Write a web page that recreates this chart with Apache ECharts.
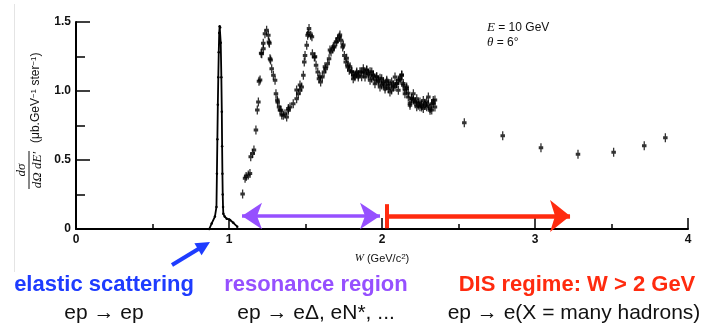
<!DOCTYPE html>
<html>
<head>
<meta charset="utf-8">
<script src="https://cdn.jsdelivr.net/npm/echarts@6/dist/echarts.min.js"></script>
<style>
  html, body { margin: 0; padding: 0; background: #fff; }
  #chart { width: 712px; height: 328px; }
</style>
</head>
<body>
<div id="chart"></div>
<script>
// elastic peak, W (GeV/c2) vs d2sigma/dOmega dE'
var elasticW = [0.871, 0.887, 0.908, 0.918, 0.921, 0.924, 0.927, 0.930, 0.933, 0.936, 0.939, 0.942, 0.946,
  0.950, 0.953, 0.955, 0.957, 0.959, 0.961, 0.963, 0.972, 0.985, 1.007, 1.028, 1.054];
var elasticY = [0.0, 0.04, 0.09, 0.16, 0.40, 0.65, 0.90, 1.10, 1.28, 1.42, 1.47, 1.46, 1.35,
  1.10, 0.85, 0.60, 0.40, 0.25, 0.16, 0.11, 0.09, 0.075, 0.065, 0.045, 0.017];

// resonance region points
var resW = [1.089, 1.105, 1.112, 1.126, 1.137, 1.142, 1.155, 1.163, 1.176, 1.185, 1.192, 1.196, 1.203, 1.210,
  1.214, 1.224, 1.225, 1.235, 1.246, 1.257, 1.261, 1.264, 1.268, 1.272, 1.279, 1.290, 1.301, 1.307, 1.316,
  1.318, 1.327, 1.333, 1.340, 1.345, 1.355, 1.366, 1.377, 1.388, 1.388, 1.399, 1.420, 1.442, 1.442, 1.453,
  1.464, 1.464, 1.475, 1.486, 1.492, 1.497, 1.508, 1.514, 1.518, 1.523, 1.534, 1.542, 1.545, 1.558, 1.562,
  1.569, 1.580, 1.588, 1.595, 1.599, 1.610, 1.621, 1.627, 1.632, 1.645, 1.654, 1.660, 1.667, 1.678, 1.682,
  1.688, 1.699, 1.704, 1.710, 1.721, 1.725, 1.732, 1.743, 1.747, 1.754, 1.763, 1.769, 1.776, 1.780, 1.786,
  1.791, 1.802, 1.802, 1.812, 1.812, 1.823, 1.824, 1.834, 1.835, 1.845, 1.845, 1.856, 1.863, 1.867, 1.878,
  1.878, 1.889, 1.889, 1.900, 1.900, 1.911, 1.911, 1.922, 1.922, 1.933, 1.933, 1.943, 1.943, 1.954, 1.954,
  1.965, 1.965, 1.976, 1.976, 1.987, 1.987, 1.998, 1.998, 2.009, 2.009, 2.020, 2.020, 2.031, 2.031, 2.041,
  2.041, 2.052, 2.052, 2.063, 2.063, 2.074, 2.074, 2.085, 2.085, 2.096, 2.096, 2.107, 2.107, 2.118, 2.118,
  2.129, 2.129, 2.139, 2.139, 2.150, 2.150, 2.161, 2.161, 2.172, 2.172, 2.183, 2.183, 2.194, 2.194, 2.205,
  2.205, 2.216, 2.216, 2.227, 2.227, 2.237, 2.237, 2.248, 2.248, 2.259, 2.259, 2.270, 2.270, 2.281, 2.281,
  2.292, 2.292, 2.303, 2.303, 2.314, 2.314, 2.325, 2.325, 2.335, 2.335, 2.346, 2.346];
var resY = [0.254, 0.367, 0.380, 0.391, 0.403, 0.524, 0.548, 0.572, 0.717, 0.862, 0.920, 1.070, 1.080, 1.273,
  1.270, 1.346, 1.307, 1.415, 1.440, 1.404, 1.355, 1.346, 1.234, 1.225, 1.162, 1.114, 1.078, 0.980, 0.935,
  0.920, 0.884, 0.862, 0.860, 0.826, 0.824, 0.836, 0.812, 0.860, 0.874, 0.884, 0.908, 0.944, 1.007, 0.980,
  1.005, 1.043, 1.029, 1.114, 1.210, 1.258, 1.331, 1.404, 1.418, 1.452, 1.404, 1.394, 1.270, 1.246, 1.249,
  1.186, 1.138, 1.089, 1.104, 1.065, 1.101, 1.138, 1.176, 1.162, 1.198, 1.234, 1.297, 1.283, 1.307, 1.321,
  1.319, 1.355, 1.357, 1.379, 1.391, 1.406, 1.367, 1.319, 1.333, 1.258, 1.210, 1.237, 1.174, 1.188, 1.150,
  1.176, 1.138, 1.140, 1.089, 1.116, 1.104, 1.114, 1.128, 1.138, 1.101, 1.116, 1.140, 1.138, 1.104, 1.162,
  1.140, 1.101, 1.128, 1.150, 1.152, 1.126, 1.116, 1.078, 1.140, 1.138, 1.092, 1.114, 1.116, 1.053, 1.080,
  1.101, 1.104, 1.078, 1.067, 1.029, 1.092, 1.089, 1.043, 1.053, 1.067, 1.014, 1.031, 1.078, 1.067, 1.041,
  1.019, 0.993, 1.055, 1.065, 1.007, 1.029, 1.043, 1.101, 1.031, 1.053, 1.055, 1.005, 1.080, 1.078, 1.092,
  1.114, 1.116, 1.041, 1.055, 0.980, 1.007, 1.029, 1.019, 0.957, 0.983, 0.896, 0.911, 0.944, 0.947, 0.980,
  0.935, 0.920, 0.922, 0.944, 0.886, 0.896, 0.911, 0.920, 0.886, 0.884, 0.898, 0.932, 0.874, 0.896, 0.911,
  0.920, 0.886, 0.957, 0.898, 0.860, 0.874, 0.908, 0.862, 0.932, 0.911, 0.884, 0.935];

// deep inelastic points
var disW = [2.538, 2.789, 3.039, 3.281, 3.514, 3.714, 3.852];
var disY = [0.770, 0.676, 0.589, 0.541, 0.556, 0.604, 0.662];

var xTickValues = [0, 1, 2, 3, 4];
var xTickLabels = ['0', '1', '2', '3', '4'];
var yTickValues = [0, 0.5, 1, 1.5];
var yTickLabels = ['0', '0.5', '1.0', '1.5'];

// region arrows (W positions of the tips, height of the arrows)
var resonanceSpan = [1.085, 1.987];
var disSpan = [2.033, 3.229];
var arrowY = 0.094;

function pairs(xs, ys) {
  return xs.map(function (x, i) { return [x, ys[i]]; });
}

var errSymbol = 'path://M1.6,0H2.9V3H4.5V6H2.9V9H1.6V6H0V3H1.6Z';
var sans = '"Liberation Sans", Arial, sans-serif';
var serif = '"Liberation Serif", "DejaVu Serif", serif';

var chart = echarts.init(document.getElementById('chart'), null, { renderer: 'canvas' });

var option = {
  animation: false,
  backgroundColor: '#fff',
  grid: { left: 76, right: 24, top: 22, bottom: 99 },
  xAxis: {
    type: 'value', min: 0, max: 4, interval: 1,
    axisLine: { lineStyle: { color: '#000', width: 2 } },
    axisTick: { inside: true, length: 11, lineStyle: { color: '#000', width: 1.5 } },
    minorTick: { show: true, splitNumber: 2, length: 5, lineStyle: { color: '#000', width: 1.5 } },
    splitLine: { show: false },
    axisLabel: {
      margin: 5, fontSize: 12, fontWeight: 'bold', color: '#111', fontFamily: sans,
      formatter: function (v) { return xTickLabels[xTickValues.indexOf(v)]; }
    },
    name: '{i|W} (GeV/c{s|2})',
    nameLocation: 'middle', nameGap: 24,
    nameTextStyle: {
      fontSize: 11, color: '#111', fontFamily: sans,
      rich: {
        i: { fontSize: 11, fontStyle: 'italic', fontFamily: serif, color: '#111' },
        s: { fontSize: 8, verticalAlign: 'top', lineHeight: 9, color: '#111' }
      }
    }
  },
  yAxis: {
    type: 'value', min: 0, max: 1.5, interval: 0.5,
    axisLine: { show: true, lineStyle: { color: '#000', width: 2 } },
    axisTick: { show: true, inside: true, length: 14, lineStyle: { color: '#000', width: 1.5 } },
    minorTick: { show: true, splitNumber: 2, length: 9, lineStyle: { color: '#000', width: 1.5 } },
    splitLine: { show: false },
    axisLabel: {
      margin: 5, fontSize: 12, fontWeight: 'bold', color: '#111', fontFamily: sans,
      formatter: function (v) { return yTickLabels[yTickValues.indexOf(v)]; }
    }
  },
  series: [
    {
      name: 'elastic', type: 'line',
      data: pairs(elasticW, elasticY),
      symbol: 'circle', symbolSize: 2.5, showSymbol: true,
      itemStyle: { color: '#000' },
      lineStyle: { color: '#000', width: 1.8 },
      z: 3
    },
    {
      name: 'resonance', type: 'scatter',
      data: pairs(resW, resY),
      symbol: errSymbol, symbolSize: [4.5, 9], symbolKeepAspect: false,
      itemStyle: { color: '#000' },
      z: 3
    },
    {
      name: 'dis', type: 'scatter',
      data: pairs(disW, disY),
      symbol: errSymbol, symbolSize: [4.5, 9], symbolKeepAspect: false,
      itemStyle: { color: '#000' },
      z: 3,
      markLine: {
        silent: true, animation: false,
        label: { show: false },
        emphasis: { disabled: true },
        data: [
          [
            { coord: [resonanceSpan[0], arrowY], symbol: 'arrow', symbolSize: [20, 20],
              lineStyle: { color: '#9650ff', width: 3.5, type: 'solid' } },
            { coord: [resonanceSpan[1], arrowY], symbol: 'arrow', symbolSize: [20, 20],
              lineStyle: { color: '#9650ff', width: 3.5, type: 'solid' } }
          ],
          [
            { coord: [disSpan[0], arrowY], symbol: 'none',
              lineStyle: { color: '#ff2b0f', width: 4.5, type: 'solid' } },
            { coord: [disSpan[1], arrowY], symbol: 'arrow', symbolSize: [24, 20],
              lineStyle: { color: '#ff2b0f', width: 4.5, type: 'solid' } }
          ],
          [
            { coord: [disSpan[0], 0.005], symbol: 'none',
              lineStyle: { color: '#ff2b0f', width: 4, type: 'solid' } },
            { coord: [disSpan[0], 0.18], symbol: 'none',
              lineStyle: { color: '#ff2b0f', width: 4, type: 'solid' } }
          ]
        ]
      }
    }
  ],
  graphic: [
    // faint edge of the scanned figure
    { type: 'line', shape: { x1: 14.5, y1: 4, x2: 14.5, y2: 272 }, style: { stroke: '#e4e4e4', lineWidth: 1 }, silent: true },
    // y axis title
    {
      type: 'group', x: 29, y: 170, rotation: Math.PI / 2, silent: true,
      children: [
        { type: 'text', style: { text: 'dσ', x: 0, y: -1, align: 'center', verticalAlign: 'bottom',
          fontSize: 13, fontStyle: 'italic', fontFamily: serif, fill: '#111' } },
        { type: 'line', shape: { x1: -19, y1: 0, x2: 19, y2: 0 }, style: { stroke: '#111', lineWidth: 1 } },
        { type: 'text', style: { text: 'dΩ dE′', x: 0, y: 2, align: 'center', verticalAlign: 'top',
          fontSize: 13, fontStyle: 'italic', fontFamily: serif, fill: '#111' } },
        { type: 'text', style: {
          text: '(μb.GeV{s|−1} ster{s|−1})', x: 27, y: 7, align: 'left', verticalAlign: 'middle',
          fontSize: 12, fontFamily: sans, fill: '#111',
          rich: { s: { fontSize: 8, verticalAlign: 'top', lineHeight: 9, fill: '#111' } }
        } }
      ]
    },
    // beam conditions
    { type: 'text', silent: true, style: { text: '{i|E} = 10 GeV', x: 487, y: 28, verticalAlign: 'middle',
      fontSize: 12, fontFamily: sans, fill: '#111', rich: { i: { fontStyle: 'italic', fontFamily: serif, fontSize: 13 } } } },
    { type: 'text', silent: true, style: { text: '{i|θ} = 6°', x: 487, y: 43, verticalAlign: 'middle',
      fontSize: 12, fontFamily: sans, fill: '#111', rich: { i: { fontStyle: 'italic', fontFamily: serif, fontSize: 13 } } } },
    // blue arrow pointing at the elastic peak
    { type: 'line', silent: true, shape: { x1: 172, y1: 265, x2: 200, y2: 248 }, style: { stroke: '#1e3cff', lineWidth: 4 } },
    { type: 'polygon', silent: true, shape: { points: [[210, 242], [201.6, 255.3], [194.4, 243.3]] }, style: { fill: '#1e3cff' } },
    // region captions
    { type: 'text', silent: true, style: { text: 'elastic scattering', x: 104, y: 285, align: 'center', verticalAlign: 'middle',
      fontSize: 22, fontWeight: 'bold', fontFamily: sans, fill: '#1e3cff' } },
    { type: 'text', silent: true, style: { text: 'ep → ep', x: 104, y: 313, align: 'center', verticalAlign: 'middle',
      fontSize: 21, fontFamily: sans, fill: '#111' } },
    { type: 'text', silent: true, style: { text: 'resonance region', x: 316, y: 285, align: 'center', verticalAlign: 'middle',
      fontSize: 22, fontWeight: 'bold', fontFamily: sans, fill: '#9650ff' } },
    { type: 'text', silent: true, style: { text: 'ep → eΔ, eN*, ...', x: 316, y: 313, align: 'center', verticalAlign: 'middle',
      fontSize: 21, fontFamily: sans, fill: '#111' } },
    { type: 'text', silent: true, style: { text: 'DIS regime: W > 2 GeV', x: 577, y: 285, align: 'center', verticalAlign: 'middle',
      fontSize: 22, fontWeight: 'bold', fontFamily: sans, fill: '#ff2b0f' } },
    { type: 'text', silent: true, style: { text: 'ep → e(X = many hadrons)', x: 574, y: 313, align: 'center', verticalAlign: 'middle',
      fontSize: 21, fontFamily: sans, fill: '#111' } }
  ]
};

chart.setOption(option);
</script>
</body>
</html>
